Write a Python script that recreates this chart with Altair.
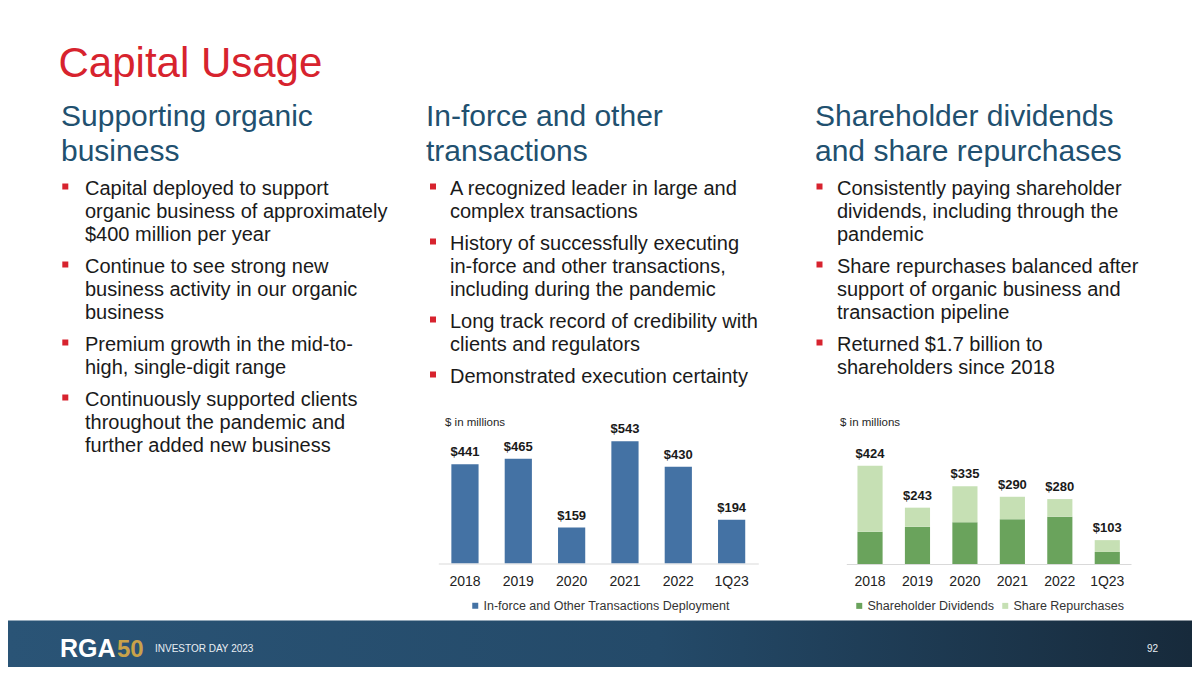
import altair as alt
import pandas as pd

# ---------------- data ----------------
years = ["2018", "2019", "2020", "2021", "2022", "1Q23"]
inforce_deploy = [441, 465, 159, 543, 430, 194]
dividends = [139, 161, 180, 193, 204, 52]
repurchases = [285, 82, 155, 97, 76, 51]
returned_totals = [424, 243, 335, 290, 280, 103]

series1 = "In-force and Other Transactions Deployment"
series2 = ["Shareholder Dividends", "Share Repurchases"]

title_text = "Capital Usage"
headings = [
    ["Supporting organic", "business"],
    ["In-force and other", "transactions"],
    ["Shareholder dividends", "and share repurchases"],
]
bullets = [
    [
        ["Capital deployed to support", "organic business of approximately", "$400 million per year"],
        ["Continue to see strong new", "business activity in our organic", "business"],
        ["Premium growth in the mid-to-", "high, single-digit range"],
        ["Continuously supported clients", "throughout the pandemic and", "further added new business"],
    ],
    [
        ["A recognized leader in large and", "complex transactions"],
        ["History of successfully executing", "in-force and other transactions,", "including during the pandemic"],
        ["Long track record of credibility with", "clients and regulators"],
        ["Demonstrated execution certainty"],
    ],
    [
        ["Consistently paying shareholder", "dividends, including through the", "pandemic"],
        ["Share repurchases balanced after", "support of organic business and", "transaction pipeline"],
        ["Returned $1.7 billion to", "shareholders since 2018"],
    ],
]
unit_note = "$ in millions"
footer_event = "INVESTOR DAY 2023"
page_number = "92"
logo_a = "RGA"
logo_b = "50"

# ---------------- style / layout ----------------
FONT = "Liberation Sans, Arial, Helvetica, sans-serif"
RED = "#d7232e"
HEAD = "#21506f"
BODY = "#1a1a1a"
BLUE = "#4472a4"
GREEN_D = "#6aa35c"
GREEN_L = "#c6e0b4"
W, H = 1184, 659
M = 8


def P(v):
    return v - M


col_head_x = [61, 426, 815]
col_text_x = [85, 450, 837]
col_sq_x = [65.3, 433, 819.5]
head_y = [126, 161]
first_base = 195
line_h = 23
bullet_gap = 9

head_rows, body_rows, sq_rows = [], [], []
for c in range(3):
    for i, t in enumerate(headings[c]):
        head_rows.append({"x": P(col_head_x[c]), "y": P(head_y[i]), "text": t})
    y = first_base
    for b in bullets[c]:
        sq_rows.append({"x": P(col_sq_x[c]), "y": P(y - 8.5)})
        for ln in b:
            body_rows.append({"x": P(col_text_x[c]), "y": P(y), "text": ln})
            y += line_h
        y += bullet_gap


def txt(rows, **kw):
    return alt.Chart(pd.DataFrame(rows)).mark_text(
        align=kw.pop("align", "left"), baseline="alphabetic", font=FONT, **kw
    ).encode(
        x=alt.X("x:Q", scale=None, axis=None),
        y=alt.Y("y:Q", scale=None, axis=None),
        text="text:N",
    )


one = pd.DataFrame({"a": [0]})

footer = alt.Chart(one).mark_rect(
    color=alt.LinearGradient(
        gradient="linear",
        x1=0, x2=1, y1=0, y2=0,
        stops=[
            alt.GradientStop(color="#2a5476", offset=0),
            alt.GradientStop(color="#244a69", offset=0.55),
            alt.GradientStop(color="#172a3b", offset=1),
        ],
    )
).encode(x=alt.value(0), x2=alt.value(W), y=alt.value(P(620.5)), y2=alt.value(H))

title = txt([{"x": P(58.5), "y": P(77), "text": title_text}], fontSize=42, color=RED)
heads = txt(head_rows, fontSize=30, color=HEAD)
body = txt(body_rows, fontSize=20, color=BODY)
squares = alt.Chart(pd.DataFrame(sq_rows)).mark_square(size=36, color=RED, opacity=1).encode(
    x=alt.X("x:Q", scale=None, axis=None), y=alt.Y("y:Q", scale=None, axis=None)
)
notes = txt([{"x": P(445), "y": P(426), "text": unit_note},
             {"x": P(840), "y": P(426), "text": unit_note}], fontSize=11.5, color="#262626")
logo1 = txt([{"x": P(60), "y": P(657), "text": logo_a}], fontSize=25, fontWeight="bold", color="#ffffff")
logo2 = txt([{"x": P(117), "y": P(657), "text": logo_b}], fontSize=24, fontWeight="bold", color="#c9a24a")
ftxt = txt([{"x": P(155), "y": P(651.5), "text": footer_event}], fontSize=10, color="#e8eef3")
pnum = txt([{"x": P(1158), "y": P(651.5), "text": page_number}], fontSize=10, color="#e8eef3", align="right")


def xaxis(off, pad):
    return alt.Axis(title=None, orient="bottom", ticks=False, tickSize=0, grid=False,
                    domainColor="#d9d9d9", domainWidth=1, labelFont=FONT, labelFontSize=14,
                    labelColor="#222222", labelPadding=pad, labelBaseline="alphabetic",
                    labelAngle=0, offset=off)


def legend(lx, ly):
    return alt.Legend(orient="none", legendX=lx, legendY=ly, direction="horizontal", title=None,
                      symbolType="square", symbolSize=36, symbolStrokeWidth=0, labelFont=FONT,
                      labelFontSize=12.5, labelColor="#333333", labelOffset=2, columnPadding=5,
                      padding=0, labelLimit=0)


# chart 1
x1s = alt.Scale(domain=years, range=[P(438.3), P(758.3)], paddingInner=0.49, paddingOuter=0.245)
y1s = alt.Scale(domain=[0, 543], range=[P(563.3), P(441.3)], nice=False, zero=True)
df1 = pd.DataFrame({"year": years, "value": inforce_deploy, "series": series1,
                    "label": ["$" + str(v) for v in inforce_deploy]})
bars1 = alt.Chart(df1).mark_bar().encode(
    x=alt.X("year:N", scale=x1s, axis=xaxis(P(563.5) - H, 21.5)),
    y=alt.Y("value:Q", scale=y1s, axis=None),
    color=alt.Color("series:N", scale=alt.Scale(domain=[series1], range=[BLUE]),
                    legend=legend(P(469), P(599.5))),
)
lab1 = alt.Chart(df1).mark_text(dy=-8, baseline="alphabetic", font=FONT, fontSize=13,
                                fontWeight="bold", color=BODY).encode(
    x=alt.X("year:N", scale=x1s, axis=None),
    y=alt.Y("value:Q", scale=y1s, axis=None),
    text="label:N",
)

# chart 2
x2s = alt.Scale(domain=years, range=[P(846.3), P(1131)], paddingInner=0.47, paddingOuter=0.235)
y2s = alt.Scale(domain=[0, 424], range=[P(564), P(465.7)], nice=False, zero=True)
df2 = pd.DataFrame({"year": years * 2, "value": dividends + repurchases,
                    "series": [series2[0]] * 6 + [series2[1]] * 6, "ord": [0] * 6 + [1] * 6})
df2t = pd.DataFrame({"year": years, "total": returned_totals,
                     "label": ["$" + str(v) for v in returned_totals]})
bars2 = alt.Chart(df2).mark_bar().encode(
    x=alt.X("year:N", scale=x2s, axis=xaxis(P(564) - H, 21)),
    y=alt.Y("value:Q", scale=y2s, axis=None, stack="zero"),
    color=alt.Color("series:N", scale=alt.Scale(domain=series2, range=[GREEN_D, GREEN_L]),
                    legend=legend(P(853), P(599.5))),
    order=alt.Order("ord:Q"),
)
lab2 = alt.Chart(df2t).mark_text(dy=-8, baseline="alphabetic", font=FONT, fontSize=13,
                                 fontWeight="bold", color=BODY).encode(
    x=alt.X("year:N", scale=x2s, axis=None),
    y=alt.Y("total:Q", scale=y2s, axis=None),
    text="label:N",
)

chart = alt.layer(
    footer, title, heads, body, squares, notes, bars1, lab1, bars2, lab2,
    logo1, logo2, ftxt, pnum,
).resolve_scale(
    x="independent", y="independent", color="independent"
).properties(
    width=W, height=H, padding=0, autosize=alt.AutoSizeParams(type="none"), background="#ffffff"
).configure_view(stroke=None)

chart.save("out.html", embed_options={"renderer": "svg", "actions": False})
